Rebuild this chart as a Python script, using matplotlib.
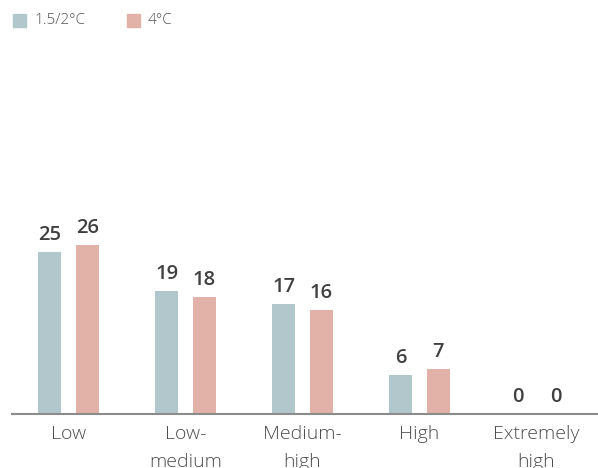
import matplotlib
matplotlib.use("Agg")
import matplotlib.pyplot as plt
from matplotlib.patches import Rectangle
import numpy as np

plt.rcParams['font.family'] = ['Open Sans', 'DejaVu Sans']

# Share of sites per risk level under each warming scenario
categories = ["Low", "Low-\nmedium", "Medium-\nhigh", "High", "Extremely\nhigh"]
series_names = ["1.5/2°C", "4°C"]
values_low_warming = [25, 19, 17, 6, 0]
values_high_warming = [26, 18, 16, 7, 0]

colors = ["#b1c7cc", "#e2b1a7"]
label_color = "#404040"
tick_color = "#4d4d4d"

fig = plt.figure(figsize=(5.98, 4.68), dpi=100)
ax = fig.add_axes([12 / 598, 54 / 468, 586 / 598, 325 / 468])

x = np.arange(len(categories))
width = 0.197
offset = 0.162

for vals, col, sign in [(values_low_warming, colors[0], -1), (values_high_warming, colors[1], 1)]:
    bars = ax.bar(x + sign * offset, vals, width=width, color=col, zorder=2)
    for b, v in zip(bars, vals):
        ax.annotate(str(v), (b.get_x() + b.get_width() / 2, v),
                    xytext=(0, 5), textcoords="offset points",
                    ha="center", va="bottom", fontsize=14.5, fontweight="semibold",
                    color=label_color)

ax.set_xlim(-0.483, 4.526)
ax.set_ylim(0, 50)
ax.set_xticks(x)
ax.set_xticklabels(categories, fontsize=14, color=tick_color, linespacing=1.7,
                   fontweight="light")
ax.tick_params(axis="x", length=0, pad=8)
ax.set_yticks([])
for side in ["top", "right", "left"]:
    ax.spines[side].set_visible(False)
ax.spines["bottom"].set_color("#8c8c8c")
ax.spines["bottom"].set_linewidth(1.5)

# Legend drawn as squares and text along the top
legend_items = [(13, series_names[0]), (127, series_names[1])]
for i, (px, name) in enumerate(legend_items):
    fig.patches.append(Rectangle((px / 598, 1 - 27 / 468), 13 / 598, 13 / 468,
                                 transform=fig.transFigure, color=colors[i]))
    fig.text((px + 21) / 598, 1 - 20.5 / 468, name, fontsize=11,
             color="#555555", va="center", ha="left", fontweight="light")

fig.savefig("out.png", dpi=100)
